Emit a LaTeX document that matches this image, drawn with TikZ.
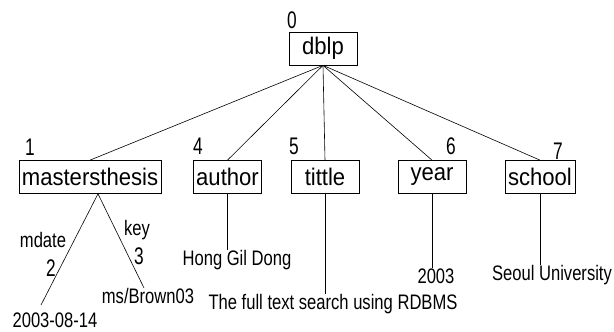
\documentclass[tikz,border=0pt]{standalone}
\usepackage{fontspec}
\setmainfont{Liberation Sans}
\newfontfamily\boxfont[FakeStretch=0.92]{Liberation Sans}
\newfontfamily\narrowfont[FakeStretch=0.79]{Liberation Sans}
\newfontfamily\numfont[FakeStretch=0.72]{Liberation Sans}
\tikzset{
  elem/.style={draw, line width=0.7pt, minimum width=68pt, minimum height=33pt,
    inner xsep=3pt, inner ysep=0pt, font=\boxfont\fontsize{24}{24}\selectfont},
  leaf/.style={inner sep=0pt, font=\narrowfont\fontsize{21}{21}\selectfont},
  idx/.style={inner sep=0pt, font=\numfont\fontsize{24}{24}\selectfont},
  edge/.style={line width=0.6pt}
}

\begin{document}
\begin{tikzpicture}[x=1pt,y=1pt,yscale=-1,xscale=1]
\useasboundingbox (0,0) rectangle (614,332);

%Root element
\node [elem] (dblp) at (323,48.5) {dblp};
\node [idx] (n0) at (292,20) {0};

%Child elements
\node [elem] (mt) at (90,177) {mastersthesis};
\node [elem] (author) at (227.5,177) {author};
\node [elem] (tittle) at (325,177) {tittle};
\node [elem] (year) at (432,177) {year};
\node [elem] (school) at (540,177) {school};

%Node numbers
\node [idx] (n1) at (30,147) {1};
\node [idx] (n4) at (198,146) {4};
\node [idx] (n5) at (294,146) {5};
\node [idx] (n6) at (451,146) {6};
\node [idx] (n7) at (558,151) {7};

%Edges from the root
\foreach \c in {mt,author,tittle,year,school}
  \draw [edge] (dblp.south) -- (\c.north);

%Attributes of mastersthesis
\node [leaf] (mdate) at (55,320) {2003-08-14};
\node [leaf] (key) at (148,296) {ms/Brown03};
\coordinate (mdateend) at (41,305);
\coordinate (keyend) at (144,288);
\draw [edge] ([xshift=8pt]mt.south) -- (mdateend);
\draw [edge] ([xshift=8pt]mt.south) -- (keyend);
\node [leaf] (lmdate) at (43,240) {mdate};
\node [idx] (n2) at (51,268) {2};
\node [leaf] (lkey) at (137,230) {key};
\node [idx] (n3) at (139,256) {3};

%Text values
\node [leaf] (hong) at (237,260) {Hong Gil Dong};
\node [leaf] (ttext) at (333,304) {The full text search using RDBMS};
\node [leaf] (yval) at (436,276) {2003};
\node [leaf] (sval) at (552,275) {Seoul University};
\draw [edge] (author.south) -- (author.south |- hong.north);
\draw [edge] (tittle.south) -- (tittle.south |- ttext.north);
\draw [edge] (year.south) -- (year.south |- yval.north);
\draw [edge] (school.south) -- (school.south |- sval.north);

\end{tikzpicture}
\end{document}
